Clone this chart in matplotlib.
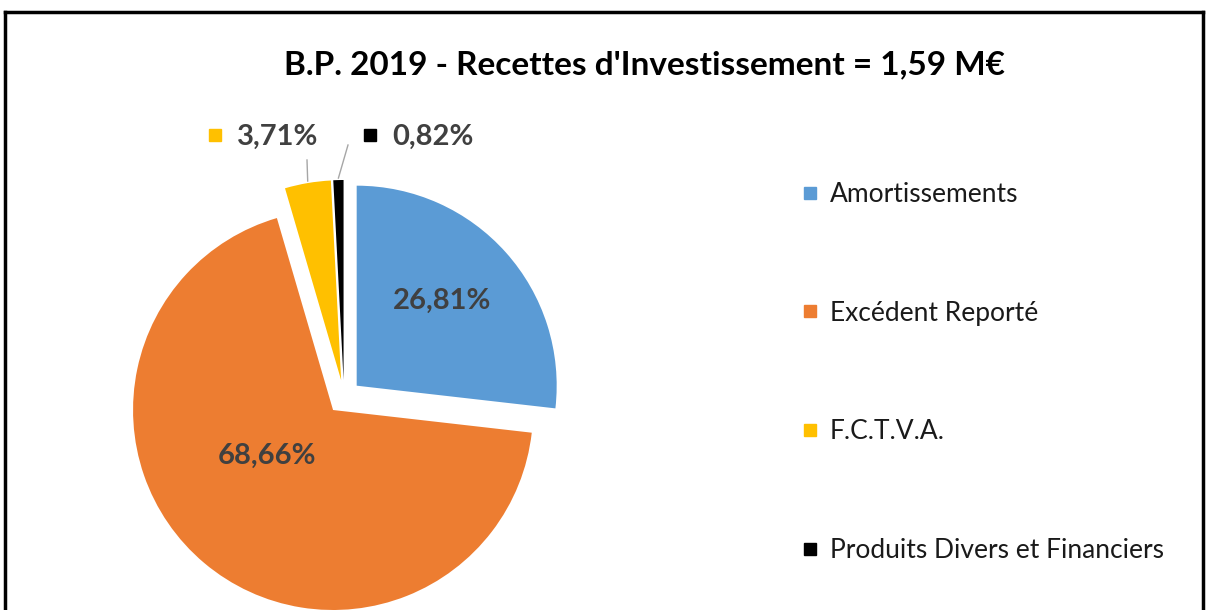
import numpy as np
import matplotlib
matplotlib.use("Agg")
import matplotlib.pyplot as plt
from matplotlib.lines import Line2D

plt.rcParams['font.family'] = ['Lato', 'DejaVu Sans']

categories = ["Amortissements", "Excédent Reporté", "F.C.T.V.A.", "Produits Divers et Financiers"]
values = [26.81, 68.66, 3.71, 0.82]
value_labels = ["26,81%", "68,66%", "3,71%", "0,82%"]
colors = ["#5B9BD5", "#ED7D31", "#FFC000", "#000000"]
title = "B.P. 2019 - Recettes d'Investissement = 1,59 M€"

W, H = 1209, 610
fig = plt.figure(figsize=(W / 100, H / 100), dpi=100)
ax = fig.add_axes([0, 0, 1, 1])
R = 200.0  # px per radius unit
cx, cy = 344, 397  # pie centre in px (y down)

explode = [0.085] * 4
wedges, _ = ax.pie(values, colors=colors, startangle=90, counterclock=False,
                   explode=explode, radius=1.0, wedgeprops=dict(linewidth=0))
ax.set_xlim(-cx / R, (W - cx) / R)
ax.set_ylim(-(H - cy) / R, cy / R)
ax.set_aspect('equal')
ax.axis('off')

def mid(w):
    return np.deg2rad((w.theta1 + w.theta2) / 2)

LBL_FS = 21

# inside labels
inside = {0: (0.60, 3.0), 1: (0.40, -15.0)}
for i, (dist, dang) in inside.items():
    w = wedges[i]
    a = mid(w) + np.deg2rad(dang)
    x = w.center[0] + dist * np.cos(a)
    y = w.center[1] + dist * np.sin(a)
    ax.text(x, y, value_labels[i], ha='center', va='center', fontsize=LBL_FS,
            fontweight='bold', color='#404040')

# outside labels with leader lines
label_y = (cy - 137) / R
outside = {2: ((237 - cx) / R, (215 - cx) / R, (307 - cx) / R, (160 - cy) / R),
           3: ((392 - cx) / R, (370 - cx) / R, (348 - cx) / R, (145 - cy) / R)}
for i, (tx, mx, lx_end, ly_end) in outside.items():
    w = wedges[i]
    a = mid(w)
    sx = w.center[0] + 1.0 * np.cos(a)
    sy = w.center[1] + 1.0 * np.sin(a) + 0.01
    ax.plot([sx, lx_end], [sy, -ly_end], color='#A6A6A6', lw=1)
    ax.text(tx, label_y, value_labels[i], ha='left', va='center', fontsize=LBL_FS,
            fontweight='bold', color='#404040')
    ax.plot([mx], [label_y + 0.01], marker='s', markersize=9,
            color=colors[i], linestyle='none')

# legend
handles = [Line2D([0], [0], marker='s', linestyle='none', markersize=8,
                  markerfacecolor=c, markeredgecolor=c) for c in colors]
leg = fig.legend(handles, categories, loc='center left',
                 bbox_to_anchor=(802 / W, 1 - 372.5 / H), frameon=False,
                 fontsize=19, labelspacing=3.55, handlelength=0.6,
                 handletextpad=0.45, borderaxespad=0, borderpad=0)
for t in leg.get_texts():
    t.set_color('#1a1a1a')

fig.text(645 / W, 1 - 65 / H, title, ha='center', va='center', fontsize=24,
         fontweight='bold', color='black')

# chart border
bx0, bx1, by = 5 / W, 1203 / W, 1 - 12 / H
fig.add_artist(Line2D([bx0, bx1], [by, by], color='black', lw=2.5, transform=fig.transFigure))
fig.add_artist(Line2D([bx0, bx0], [0, by], color='black', lw=2.5, transform=fig.transFigure))
fig.add_artist(Line2D([bx1, bx1], [0, by], color='black', lw=2.5, transform=fig.transFigure))

fig.savefig("out.png", dpi=100)
